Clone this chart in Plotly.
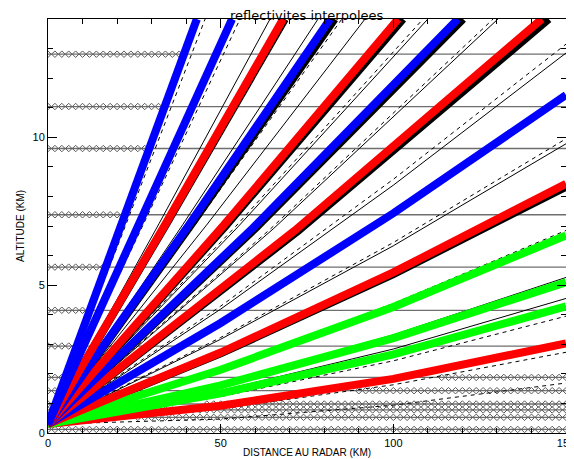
import plotly.graph_objects as go

# ---------------- data ----------------
# thick coloured beams: distance (km) / altitude (km) points, lowest elevation first
BEAM_COLORS = ["red", "green", "green", "green", "red", "blue",
               "red", "blue", "red", "blue", "red", "blue", "blue"]
BEAM_DIST = [
    [0, 50, 100, 150],
    [0, 50, 100, 150],
    [0, 50, 100, 150],
    [0, 50, 100, 150],
    [0, 50, 100, 150],
    [0, 50, 100, 150],
    [0, 71.5, 143.0],
    [0, 59.4, 118.7],
    [0, 50.7, 101.4],
    [0, 40.9, 81.7],
    [0, 34.1, 68.1],
    [0, 26.7, 53.3],
    [0, 21.6, 43.1],
]
BEAM_ALT = [
    [0.3, 0.92, 1.83, 3.03],
    [0.3, 1.34, 2.66, 4.28],
    [0.3, 1.61, 3.21, 5.10],
    [0.3, 2.14, 4.26, 6.68],
    [0.3, 2.72, 5.43, 8.43],
    [0.3, 3.72, 7.43, 11.43],
    [0.3, 6.85, 14.0],
    [0.3, 6.94, 14.0],
    [0.3, 7.00, 14.0],
    [0.3, 7.05, 14.0],
    [0.3, 7.08, 14.0],
    [0.3, 7.11, 14.0],
    [0.3, 7.12, 14.0],
]

# thick black beams drawn just under some coloured ones
BLACK_DIST = [
    [0, 50, 100, 150],
    [0, 72.5, 145.0],
    [0, 60.1, 120.2],
    [0, 51.4, 102.8],
    [0, 41.5, 83.0],
    [0, 34.3, 68.6],
]
BLACK_ALT = [
    [0.3, 2.69, 5.37, 8.33],
    [0.3, 6.84, 14.0],
    [0.3, 6.93, 14.0],
    [0.3, 7.00, 14.0],
    [0.3, 7.05, 14.0],
    [0.3, 7.08, 14.0],
]

# thin solid lines
SOLID_DIST = [
    [0, 32.2, 64.3], [0, 39.1, 78.2], [0, 45.9, 91.8], [0, 55.0, 110.0],
    [0, 65.2, 130.3],
    [0, 50, 100, 150], [0, 50, 100, 150], [0, 50, 100, 150], [0, 50, 100, 150],
]
SOLID_ALT = [
    [0.3, 7.09, 14.0], [0.3, 7.06, 14.0], [0.3, 7.03, 14.0], [0.3, 6.97, 14.0],
    [0.3, 6.90, 14.0],
    [0.3, 4.19, 8.38, 12.85], [0.3, 3.17, 6.33, 9.78],
    [0.3, 1.66, 3.32, 5.26], [0.3, 1.43, 2.84, 4.55],
]

# thin dashed lines
DASH_DIST = [
    [0, 22.8, 45.5], [0, 27.8, 55.6], [0, 34.6, 69.2], [0, 42.6, 85.1],
    [0, 54.3, 108.6], [0, 64.5, 128.9],
    [0, 50, 100, 150], [0, 50, 100, 150], [0, 50, 100, 150],
    [0, 50, 100, 150], [0, 50, 100, 150], [0, 50, 100, 150],
]
DASH_ALT = [
    [0.3, 7.12, 14.0], [0.3, 7.10, 14.0], [0.3, 7.08, 14.0], [0.3, 7.04, 14.0],
    [0.3, 6.98, 14.0], [0.3, 6.91, 14.0],
    [0.3, 4.29, 8.58, 13.15], [0.3, 3.23, 6.44, 9.95], [0.3, 2.19, 4.38, 6.85],
    [0.3, 1.23, 2.44, 3.95], [0.3, 0.82, 1.63, 2.73], [0.3, 0.47, 0.94, 1.69],
]

# interpolation levels (horizontal lines) and where the diamonds (no-beam points) lie
ROW_ALT = [12.81, 11.04, 9.62, 7.38, 5.61, 4.15, 2.94, 1.88, 1.43, 0.98, 0.78, 0.53, 0.12]
ROW_LEFT_END = [39.7, 34.1, 29.6, 22.5, 16.8, 12.2, 8.4, 5.0, 3.6, 2.2, 1.5, 0.8, 0.0]
ROW_RIGHT_START = [999, 999, 999, 999, 999, 999, 999, 113, 90, 45, 32, 25, 0]
GRID_STEP_KM = 2

X_TICKS = [0, 50, 100, 150]
Y_TICKS = [0, 5, 10]

TITLE = "reflectivites interpolees"
X_TITLE = "DISTANCE AU RADAR (KM)"
Y_TITLE = "ALTITUDE (KM)"

COLOR_MAP = {"red": "#ff0000", "green": "#00ff00", "blue": "#0000ff"}

# ---------------- figure ----------------
fig = go.Figure()

grid_x = [i * GRID_STEP_KM for i in range(int(150 / GRID_STEP_KM) + 1)]

# horizontal levels
for alt in ROW_ALT:
    fig.add_trace(go.Scatter(x=[0, 150], y=[alt, alt], mode="lines",
                             line=dict(color="#6e6e6e", width=1.3),
                             hoverinfo="skip", showlegend=False))

# diamonds
for alt, le, rs in zip(ROW_ALT, ROW_LEFT_END, ROW_RIGHT_START):
    xs = [x for x in grid_x if x <= le or x >= rs]
    fig.add_trace(go.Scatter(x=xs, y=[alt] * len(xs), mode="markers",
                             marker=dict(symbol="diamond-open", size=5,
                                         color="#5a5a5a", line=dict(width=1)),
                             hoverinfo="skip", showlegend=False))

# thin lines
for xs, ys in zip(SOLID_DIST, SOLID_ALT):
    fig.add_trace(go.Scatter(x=xs, y=ys, mode="lines",
                             line=dict(color="black", width=1),
                             hoverinfo="skip", showlegend=False))
for xs, ys in zip(DASH_DIST, DASH_ALT):
    fig.add_trace(go.Scatter(x=xs, y=ys, mode="lines",
                             line=dict(color="black", width=1, dash="4px,4px"),
                             hoverinfo="skip", showlegend=False))

# black thick beams
for xs, ys in zip(BLACK_DIST, BLACK_ALT):
    fig.add_trace(go.Scatter(x=xs, y=ys, mode="lines",
                             line=dict(color="black", width=8),
                             hoverinfo="skip", showlegend=False))

# coloured thick beams
for c, xs, ys in zip(BEAM_COLORS, BEAM_DIST, BEAM_ALT):
    fig.add_trace(go.Scatter(x=xs, y=ys, mode="lines",
                             line=dict(color=COLOR_MAP[c], width=8),
                             hoverinfo="skip", showlegend=False))

axis_common = dict(showline=True, linecolor="black", linewidth=1, mirror="ticks",
                   ticks="inside", tickcolor="black", ticklen=9, tickwidth=1,
                   showgrid=False, zeroline=False, ticklabeloverflow="allow",
                   tickfont=dict(family="Liberation Sans, Arial, sans-serif",
                                 size=11, color="black"))

fig.update_xaxes(range=[0, 150], tickvals=X_TICKS,
                 minor=dict(dtick=10, ticks="inside", ticklen=5, tickcolor="black"),
                 **axis_common)
fig.update_yaxes(range=[0, 14], tickvals=Y_TICKS,
                 minor=dict(dtick=1, ticks="inside", ticklen=5, tickcolor="black"),
                 **axis_common)

fig.add_annotation(text=TITLE, xref="paper", yref="paper", x=0.5, y=1,
                   yanchor="middle", yshift=4, showarrow=False,
                   font=dict(family="DejaVu Sans, sans-serif", size=13, color="black"))
fig.add_annotation(text=X_TITLE, xref="paper", yref="paper", x=0.5, y=0,
                   yanchor="middle", yshift=-19, showarrow=False,
                   font=dict(family="Liberation Sans, Arial, sans-serif", size=10, color="black"))
fig.add_annotation(text=Y_TITLE, xref="paper", yref="paper", x=0, y=0.5,
                   xanchor="center", xshift=-28, textangle=-90, showarrow=False,
                   font=dict(family="Liberation Sans, Arial, sans-serif", size=10, color="black"))

# the page adds an 8 px body margin, so the figure is 8 px smaller than the window
fig.update_layout(width=566, height=451,
                  margin=dict(l=40, r=8, t=11, b=26, autoexpand=False),
                  plot_bgcolor="white", paper_bgcolor="white",
                  showlegend=False)

fig.write_html("out.html")
